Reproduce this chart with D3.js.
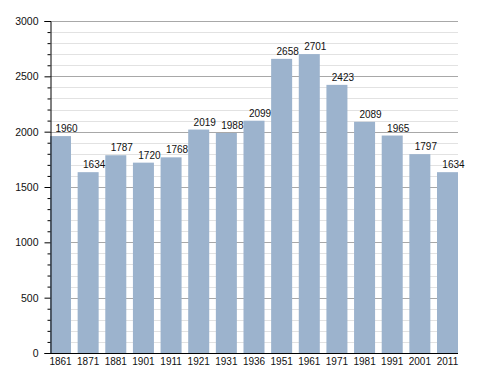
<!DOCTYPE html>
<html>
<head>
<meta charset="utf-8">
<script src="https://cdn.jsdelivr.net/npm/d3@7"></script>
<style>
  body { margin: 0; background: #fff; }
  text { font-family: "Liberation Sans", Arial, sans-serif; fill: #111; }
</style>
</head>
<body>
<div id="chart"></div>
<script>
// population by census year
var years = ["1861", "1871", "1881", "1901", "1911", "1921", "1931", "1936",
             "1951", "1961", "1971", "1981", "1991", "2001", "2011"];
var population = [1960, 1634, 1787, 1720, 1768, 2019, 1988, 2099,
                  2658, 2701, 2423, 2089, 1965, 1797, 1634];
var majorTicks = [0, 500, 1000, 1500, 2000, 2500, 3000];

var w = 488;
var h = 373;
var plotLeft = 50, plotRight = 458, plotTop = 21, plotBottom = 353;

var svg = d3.select("#chart")
    .append("svg")
    .attr("width", w)
    .attr("height", h);

var x = d3.scaleBand()
    .domain(years)
    .range([plotLeft, plotRight])
    .paddingInner(0.24)
    .paddingOuter(0);

var y = d3.scaleLinear()
    .domain([0, 3000])
    .range([plotBottom, plotTop]);

// minor grid every 100
var minor = d3.range(100, 3001, 100).filter(function(v) { return v % 500 != 0; });
svg.append("g")
    .selectAll("line")
    .data(minor)
    .enter()
    .append("line")
    .attr("x1", plotLeft)
    .attr("x2", plotRight)
    .attr("y1", function(d) { return Math.round(y(d)) + 0.5; })
    .attr("y2", function(d) { return Math.round(y(d)) + 0.5; })
    .attr("stroke", "#e2e2e2");

// major grid
svg.append("g")
    .selectAll("line")
    .data(majorTicks.slice(1))
    .enter()
    .append("line")
    .attr("x1", plotLeft)
    .attr("x2", plotRight)
    .attr("y1", function(d) { return Math.round(y(d)) + 0.5; })
    .attr("y2", function(d) { return Math.round(y(d)) + 0.5; })
    .attr("stroke", "#a8a8a8");

// bars
svg.append("g")
    .selectAll("rect")
    .data(population)
    .enter()
    .append("rect")
    .attr("x", function(d, i) { return x(years[i]); })
    .attr("y", function(d) { return y(d); })
    .attr("width", x.bandwidth())
    .attr("height", function(d) { return plotBottom - y(d); })
    .attr("fill", "#9cb3cd");

// value labels
svg.append("g")
    .selectAll("text")
    .data(population)
    .enter()
    .append("text")
    .attr("x", function(d, i) { return x(years[i]) + x.bandwidth() / 2 + 6; })
    .attr("y", function(d) { return y(d) - 4; })
    .attr("text-anchor", "middle")
    .attr("font-size", "10px")
    .text(function(d) { return d; });

// y axis with minor ticks
var yAxis = d3.axisLeft(y)
    .tickValues(majorTicks)
    .tickSize(6)
    .tickPadding(6)
    .tickFormat(d3.format("d"));
var gy = svg.append("g")
    .attr("transform", "translate(" + (plotLeft + 0.5) + ",0)")
    .call(yAxis);
gy.select(".domain").attr("stroke", "#000");
gy.selectAll(".tick line").attr("stroke", "#000");
gy.selectAll("text").attr("font-size", "10.5px").attr("fill", "#111")
    .attr("font-family", "Liberation Sans, Arial, sans-serif");

var yMinor = d3.axisLeft(y).tickValues(minor).tickSize(3).tickFormat("");
var gm = svg.append("g")
    .attr("transform", "translate(" + (plotLeft + 0.5) + ",0)")
    .call(yMinor);
gm.select(".domain").remove();
gm.selectAll(".tick line").attr("stroke", "#000");

// x axis
var xAxis = d3.axisBottom(x).tickSize(0).tickPadding(4);
var gx = svg.append("g")
    .attr("transform", "translate(0," + (plotBottom + 0.5) + ")")
    .call(xAxis);
gx.select(".domain").attr("stroke", "#000").attr("d", "M" + plotLeft + ",0H" + plotRight);
gx.selectAll("text").attr("font-size", "10px").attr("fill", "#111")
    .attr("font-family", "Liberation Sans, Arial, sans-serif");
</script>
</body>
</html>
